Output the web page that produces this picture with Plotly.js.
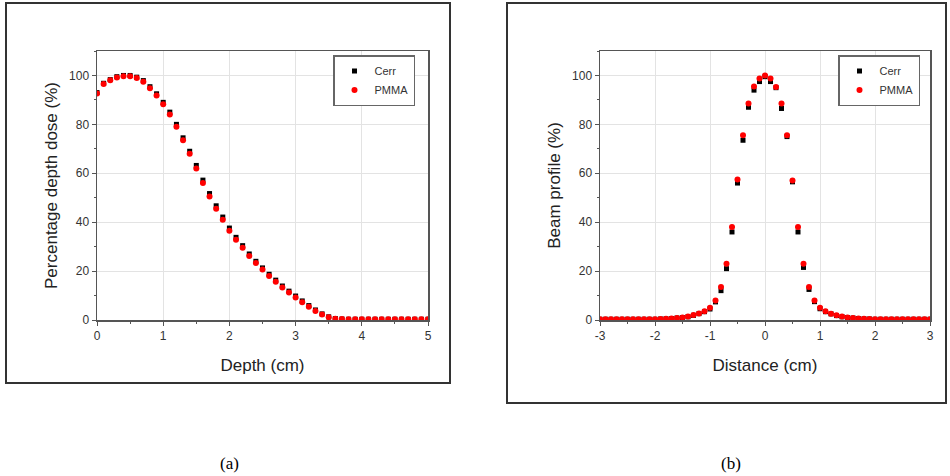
<!DOCTYPE html>
<html>
<head>
<meta charset="utf-8">
<script src="https://cdn.plot.ly/plotly-3.0.1.min.js"></script>
<style>
html,body{margin:0;padding:0;background:#fff;}
#chart{width:950px;height:476px;}
</style>
</head>
<body>
<div id="chart"></div>
<script>
// ---- Data: (a) percentage depth dose ----
const depthCm = [0.0,0.1,0.2,0.3,0.4,0.5,0.6,0.7,0.8,0.9,1.0,1.1,1.2,1.3,1.4,1.5,1.6,1.7,1.8,1.9,2.0,2.1,2.2,2.3,2.4,2.5,2.6,2.7,2.8,2.9,3.0,3.1,3.2,3.3,3.4,3.5,3.6,3.7,3.8,3.9,4.0,4.1,4.2,4.3,4.4,4.5,4.6,4.7,4.8,4.9,5.0];
const pddCerr = [93.0,96.8,98.3,99.5,100.0,100.0,99.3,97.9,95.4,92.5,89.0,85.0,80.0,74.5,69.0,63.2,57.2,51.7,46.7,42.1,37.6,33.8,30.4,27.0,24.0,21.3,18.7,16.3,13.9,11.8,9.8,7.8,5.9,4.1,2.5,1.3,0.6,0.4,0.3,0.3,0.3,0.3,0.3,0.3,0.3,0.3,0.3,0.3,0.3,0.3,0.3];
const pddPMMA = [92.6,96.5,98.0,99.2,99.7,99.7,99.0,97.4,94.8,91.8,88.2,84.0,79.0,73.5,68.0,62.0,56.0,50.5,45.5,41.0,36.5,32.8,29.5,26.2,23.3,20.6,18.0,15.6,13.3,11.2,9.2,7.3,5.4,3.7,2.2,1.1,0.5,0.4,0.3,0.3,0.3,0.3,0.3,0.3,0.3,0.3,0.3,0.3,0.3,0.3,0.3];

// ---- Data: (b) beam profile ----
const distanceCm = [-3.0,-2.9,-2.8,-2.7,-2.6,-2.5,-2.4,-2.3,-2.2,-2.1,-2.0,-1.9,-1.8,-1.7,-1.6,-1.5,-1.4,-1.3,-1.2,-1.1,-1.0,-0.9,-0.8,-0.7,-0.6,-0.5,-0.4,-0.3,-0.2,-0.1,0.0,0.1,0.2,0.3,0.4,0.5,0.6,0.7,0.8,0.9,1.0,1.1,1.2,1.3,1.4,1.5,1.6,1.7,1.8,1.9,2.0,2.1,2.2,2.3,2.4,2.5,2.6,2.7,2.8,2.9,3.0];
const profCerr = [0.3,0.3,0.3,0.3,0.3,0.3,0.3,0.3,0.3,0.3,0.3,0.4,0.5,0.6,0.8,1.0,1.3,1.9,2.6,3.4,4.5,7.4,12.0,21.0,36.0,56.0,73.5,87.0,94.0,97.5,99.5,97.5,95.0,86.5,75.0,56.5,36.0,21.5,12.5,7.5,4.6,3.4,2.5,1.8,1.3,1.0,0.8,0.6,0.5,0.4,0.3,0.3,0.3,0.3,0.3,0.3,0.3,0.3,0.3,0.3,0.3];
const profPMMA = [0.3,0.3,0.3,0.3,0.3,0.3,0.3,0.3,0.3,0.3,0.3,0.4,0.5,0.6,0.8,1.0,1.4,2.0,2.7,3.6,5.0,8.0,13.5,23.0,38.0,57.5,75.5,88.5,95.5,98.8,100.0,98.8,95.3,88.5,75.5,57.0,38.0,23.0,13.5,8.0,5.0,3.6,2.6,1.9,1.4,1.0,0.8,0.6,0.5,0.4,0.3,0.3,0.3,0.3,0.3,0.3,0.3,0.3,0.3,0.3,0.3];

// ---- Tick labels ----
const depthTicks = [0, 1, 2, 3, 4, 5];
const depthTickText = ["0", "1", "2", "3", "4", "5"];
const distTicks = [-3, -2, -1, 0, 1, 2, 3];
const distTickText = ["-3", "-2", "-1", "0", "1", "2", "3"];
const yTicks = [0, 20, 40, 60, 80, 100];
const yTickText = ["0", "20", "40", "60", "80", "100"];

const seriesNames = ["Cerr", "PMMA"];
const xTitles = ["Depth (cm)", "Distance (cm)"];
const yTitles = ["Percentage depth dose (%)", "Beam profile (%)"];
const panelLabels = ["(a)", "(b)"];

const W = 950, H = 476;
const px = v => v / W;
const py = v => 1 - v / H;

const blackMarker = {symbol: "square", size: 5, color: "#000"};
const redMarker = {symbol: "circle", size: 6, color: "#ff0000"};

const traces = [
  {x: depthCm, y: pddCerr, name: seriesNames[0], mode: "markers", marker: blackMarker, xaxis: "x", yaxis: "y", legend: "legend"},
  {x: depthCm, y: pddPMMA, name: seriesNames[1], mode: "markers", marker: redMarker, xaxis: "x", yaxis: "y", legend: "legend"},
  {x: distanceCm, y: profCerr, name: seriesNames[0], mode: "markers", marker: blackMarker, xaxis: "x2", yaxis: "y2", legend: "legend2"},
  {x: distanceCm, y: profPMMA, name: seriesNames[1], mode: "markers", marker: redMarker, xaxis: "x2", yaxis: "y2", legend: "legend2"}
];

const tickFont = {family: "Liberation Sans, Arial, sans-serif", size: 12, color: "#333"};
const titleFont = {family: "Liberation Sans, Arial, sans-serif", size: 17, color: "#222"};

function xAxis(domain, range, tv, tt, title, anchor) {
  return {
    domain: domain, range: range, anchor: anchor,
    tickmode: "array", tickvals: tv, ticktext: tt,
    showgrid: true, gridcolor: "#e3e3e3", gridwidth: 1, zeroline: false,
    showline: true, mirror: true, linecolor: "#555", linewidth: 1.5,
    ticks: "outside", ticklen: 4, tickwidth: 1, tickcolor: "#555",
    minor: {dtick: 0.5, tick0: 0, ticks: "outside", ticklen: 2, tickcolor: "#555", showgrid: false},
    tickfont: tickFont, title: {text: title, font: titleFont, standoff: 17}
  };
}
function yAxis(domain, anchor, title) {
  return {
    domain: domain, range: [0, 110], anchor: anchor,
    tickmode: "array", tickvals: yTicks, ticktext: yTickText,
    showgrid: true, gridcolor: "#e3e3e3", gridwidth: 1, zeroline: false,
    showline: true, mirror: true, linecolor: "#555", linewidth: 1.5,
    ticks: "outside", ticklen: 4, tickwidth: 1, tickcolor: "#555",
    minor: {dtick: 10, tick0: 0, ticks: "outside", ticklen: 2, tickcolor: "#555", showgrid: false},
    tickfont: tickFont, title: {text: title, font: titleFont, standoff: 7}
  };
}

const yDom = [py(320), py(51)];
const legendStyle = (x) => ({
  x: x, y: py(55), xanchor: "left", yanchor: "top", xref: "paper", yref: "paper",
  bgcolor: "#fff", bordercolor: "#666", borderwidth: 1.5,
  font: {family: "Liberation Sans, Arial, sans-serif", size: 11, color: "#333"},
  itemwidth: 30, tracegroupgap: 0
});

const labelFont = {family: "Liberation Serif, Times New Roman, serif", size: 17, color: "#000"};

const layout = {
  width: W, height: H,
  margin: {l: 0, r: 0, t: 0, b: 0},
  paper_bgcolor: "#fff", plot_bgcolor: "#fff",
  showlegend: true,
  xaxis: xAxis([px(97), px(428)], [0, 5], depthTicks, depthTickText, xTitles[0], "y"),
  yaxis: yAxis(yDom, "x", yTitles[0]),
  xaxis2: xAxis([px(600), px(930)], [-3, 3], distTicks, distTickText, xTitles[1], "y2"),
  yaxis2: yAxis(yDom, "x2", yTitles[1]),
  legend: legendStyle(px(333)),
  legend2: legendStyle(px(838)),
  shapes: [
    {type: "rect", xref: "paper", yref: "paper", x0: px(6), x1: px(450), y0: py(383), y1: py(3), line: {color: "#333", width: 2}},
    {type: "rect", xref: "paper", yref: "paper", x0: px(507), x1: px(946), y0: py(403), y1: py(3), line: {color: "#333", width: 2}}
  ],
  annotations: [
    {text: panelLabels[0], xref: "paper", yref: "paper", x: px(229), y: py(463), showarrow: false, xanchor: "center", yanchor: "middle", font: labelFont},
    {text: panelLabels[1], xref: "paper", yref: "paper", x: px(731), y: py(463), showarrow: false, xanchor: "center", yanchor: "middle", font: labelFont}
  ]
};

Plotly.newPlot("chart", traces, layout, {displayModeBar: false, staticPlot: true});
</script>
</body>
</html>
